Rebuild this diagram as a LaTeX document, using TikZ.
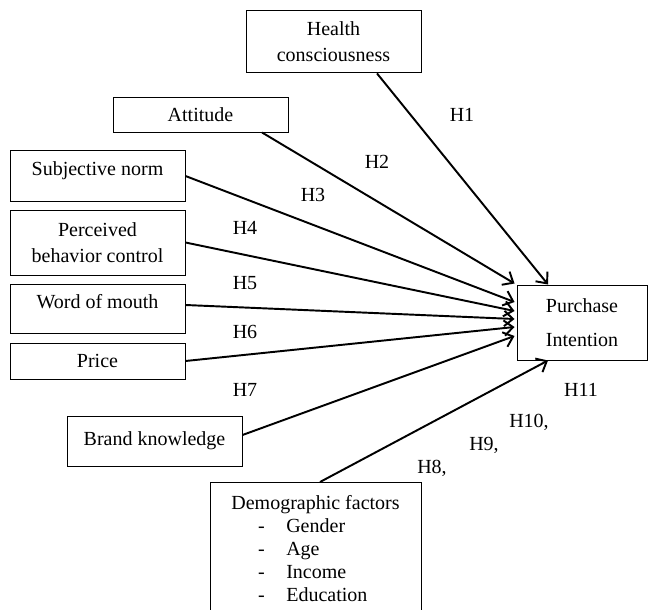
\documentclass[tikz,border=0pt]{standalone}
\usepackage{fontspec}
\setmainfont{Liberation Serif}
\usetikzlibrary{arrows.meta,calc}

\newcommand{\demoitem}[1]{\makebox[71pt][l]{\makebox[17.4pt][l]{-}#1}}

\begin{document}
\begin{tikzpicture}[x=0.62pt, y=-0.62pt, font=\fontsize{12.4}{16.5}\selectfont]

		\tikzset{
			factor/.style={draw, line width=0.6pt, minimum width=108.5pt, align=center, inner sep=2pt},
			toptext/.style={text height=9pt, text depth=10pt},
			link/.style={line width=1.2pt, -{Straight Barb[length=5.5pt,width=9.5pt]}},
			hyp/.style={inner sep=0pt},
		}

		\clip (0,0) rectangle (649,610);

		\node [factor, minimum height=39pt] (hc) at (333.5,41.5) {Health\\consciousness};
		\node [factor, minimum height=21.7pt] (att) at (200.5,114.5) {Attitude};
		\node [factor, toptext, minimum height=32.2pt] (sn) at (97.5,176) {Subjective norm};
		\node [factor, minimum height=40.3pt] (pbc) at (97.5,242.5) {Perceived\\behavior control};
		\node [factor, toptext, minimum height=29.8pt] (wom) at (97.5,309) {Word of mouth};
		\node [factor, minimum height=22.3pt] (price) at (97.5,361) {Price};
		\node [factor, minimum height=31pt] (bk) at (154.5,441) {Brand knowledge};

		\node [factor, minimum width=80.6pt, minimum height=46.5pt, font=\fontsize{12.4}{21.5}\selectfont] (pi) at (582,322.5) {Purchase\\Intention};

		\node [factor, minimum width=130.8pt, anchor=north, inner xsep=5pt, inner ysep=8pt, font=\fontsize{12.4}{14.3}\selectfont] (demo) at (315.5,482)
			{Demographic factors\\\demoitem{Gender}\\\demoitem{Age}\\\demoitem{Income}\\\demoitem{Education}};

		\draw [link] ($(hc.south)+(43.5,0)$) -- ($(pi.north)+(-34,0)$);
		\draw [link] ($(att.south)+(61.5,0)$) -- ($(pi.north west)+(-2,-1)$);
		\draw [link] (sn.east) -- ($(pi.west)+(-2,-20.5)$);
		\draw [link] (pbc.east) -- ($(pi.west)+(-2,-11.5)$);
		\draw [link] ($(wom.east)+(0,-4)$) -- ($(pi.west)+(-2,-3.5)$);
		\draw [link] (price.east) -- ($(pi.west)+(-2,4.5)$);
		\draw [link] ($(bk.east)+(0,-6)$) -- ($(pi.west)+(-2,13.5)$);
		\draw [link] ($(demo.north)+(4.5,0)$) -- ($(pi.south)+(-34,0)$);

		\node [hyp] (h1) at (462,115) {H1};
		\node [hyp] (h2) at (377,162) {H2};
		\node [hyp] (h3) at (313,195) {H3};
		\node [hyp] (h4) at (245,228) {H4};
		\node [hyp] (h5) at (245,283) {H5};
		\node [hyp] (h6) at (245,332) {H6};
		\node [hyp] (h7) at (245,390) {H7};
		\node [hyp] (h8) at (432,468) {H8,};
		\node [hyp] (h9) at (484,445) {H9,};
		\node [hyp] (h10) at (529,422) {H10,};
		\node [hyp] (h11) at (581,390) {H11};
\end{tikzpicture}
\end{document}
